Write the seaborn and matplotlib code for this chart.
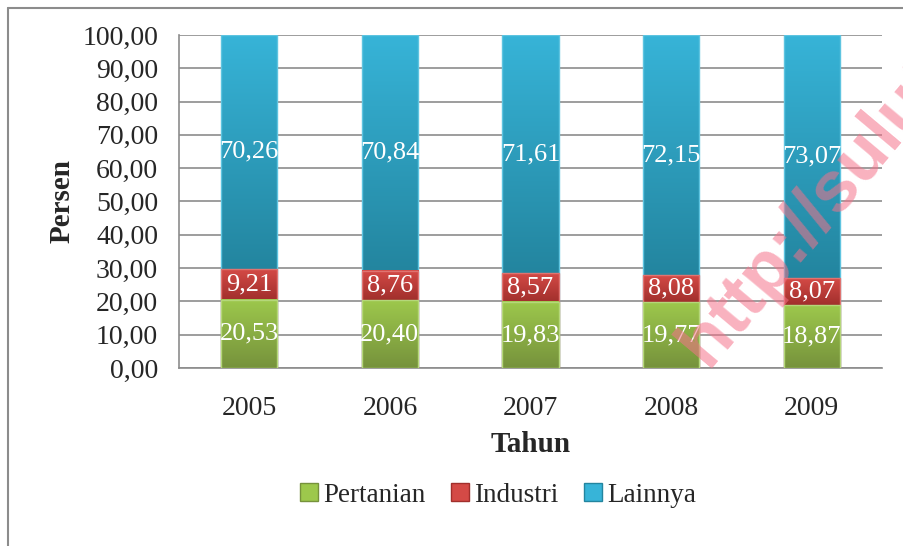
import numpy as np
import pandas as pd
import matplotlib
matplotlib.use("Agg")
import matplotlib.pyplot as plt
import seaborn as sns
from matplotlib.colors import LinearSegmentedColormap
from matplotlib.patches import Patch
from matplotlib.lines import Line2D
from matplotlib.ticker import FuncFormatter, MultipleLocator, FixedLocator

# data
tahun = ["2005", "2006", "2007", "2008", "2009"]
pertanian = [20.53, 20.40, 19.83, 19.77, 18.87]
industri = [9.21, 8.76, 8.57, 8.08, 8.07]
lainnya = [70.26, 70.84, 71.61, 72.15, 73.07]

sektor = ["Pertanian", "Industri", "Lainnya"]
warna_atas = ["#9dc84c", "#d44a46", "#37b4d8"]
warna_bawah = ["#76923c", "#a12f2c", "#23859f"]
warna_tepi = ["#b5d77a", "#e07370", "#5ec4e0"]
abu = "#8c8c8c"

df = pd.DataFrame({"Tahun": tahun, "Pertanian": pertanian,
                   "Industri": industri, "Lainnya": lainnya})
atas = df[sektor].cumsum(axis=1)
bawah = atas - df[sektor]

sns.set_style("white")
plt.rcParams["font.family"] = ["Liberation Serif", "DejaVu Serif"]

fig = plt.figure(figsize=(9.04, 5.46), dpi=100)
ax = fig.add_axes([0.198, 0.326, 0.7777, 0.61])

grad = np.linspace(0, 1, 256).reshape(-1, 1)

# stacked bars: draw the highest cumulative layer first
for k in [2, 1, 0]:
    s = sektor[k]
    z = 2 + (2 - k)
    sns.barplot(data=df.assign(puncak=atas[s]), x="Tahun", y="puncak",
                color=warna_bawah[k], saturation=1, width=0.4,
                errorbar=None, zorder=z, ax=ax)
    cmap = LinearSegmentedColormap.from_list(s, [warna_bawah[k], warna_atas[k]])
    bars = ax.patches[-len(tahun):]
    for bar, lo, hi, val in zip(bars, bawah[s], atas[s], df[s]):
        x0 = bar.get_x()
        w = bar.get_width()
        ax.imshow(grad, extent=(x0, x0 + w, lo, hi), origin="lower",
                  aspect="auto", cmap=cmap, zorder=z + 0.1,
                  interpolation="bilinear")
        bar.set_facecolor("none")
        bar.set_edgecolor(warna_tepi[k])
        bar.set_linewidth(1.0)
        bar.set_zorder(z + 0.2)
        ax.text(x0 + w / 2, (lo + hi) / 2, f"{val:.2f}".replace(".", ","),
                ha="center", va="center", color="white", fontsize=19,
                zorder=10)

# axes
ax.set_xlim(-0.5, len(tahun) - 0.5)
ax.set_ylim(0, 100)
ax.yaxis.set_major_locator(MultipleLocator(10))
ax.yaxis.set_major_formatter(FuncFormatter(lambda v, p: f"{v:.2f}".replace(".", ",")))
ax.grid(axis="y", color=abu, lw=1.2)
ax.set_axisbelow(True)
for sp in ["top", "right"]:
    ax.spines[sp].set_visible(False)
for sp in ["left", "bottom"]:
    ax.spines[sp].set_color(abu)
    ax.spines[sp].set_linewidth(1.2)

ax.tick_params(axis="y", length=5, width=1.2, color=abu, pad=10, labelsize=20)
ax.xaxis.set_minor_locator(FixedLocator(np.arange(-0.5, len(tahun), 1)))
ax.tick_params(axis="x", which="major", length=0, pad=20, labelsize=20)
ax.tick_params(axis="x", which="minor", length=6, width=1.2, color=abu)

ax.set_xlabel("Tahun", fontsize=21, fontweight="bold", labelpad=7)
ax.set_ylabel("Persen", fontsize=21, fontweight="bold", labelpad=5)

# legend
handles = [Patch(facecolor=warna_atas[k], edgecolor=warna_bawah[k], label=sektor[k])
           for k in range(3)]
fig.legend(handles=handles, loc="center", bbox_to_anchor=(0.551, 0.093), ncol=3,
           frameon=False, fontsize=19.5, handlelength=0.65, handleheight=0.65,
           handletextpad=0.2, columnspacing=0.95)

# border of the chart area (left and top only are visible)
fig.add_artist(Line2D([8 / 904, 8 / 904], [0, 1 - 8 / 546], color=abu, lw=1.5,
                      transform=fig.transFigure))
fig.add_artist(Line2D([8 / 904, 1], [1 - 8 / 546, 1 - 8 / 546], color=abu, lw=1.5,
                      transform=fig.transFigure))

# watermark
fig.text(708 / 904, 1 - 368 / 546, "http://sulut.bps.go.id", rotation=50,
         rotation_mode="anchor", ha="left", va="baseline", fontsize=52,
         fontweight="bold", family=["Liberation Sans", "DejaVu Sans"],
         color="#f5728a", alpha=0.55, zorder=20)

fig.savefig("out.png", dpi=100)
